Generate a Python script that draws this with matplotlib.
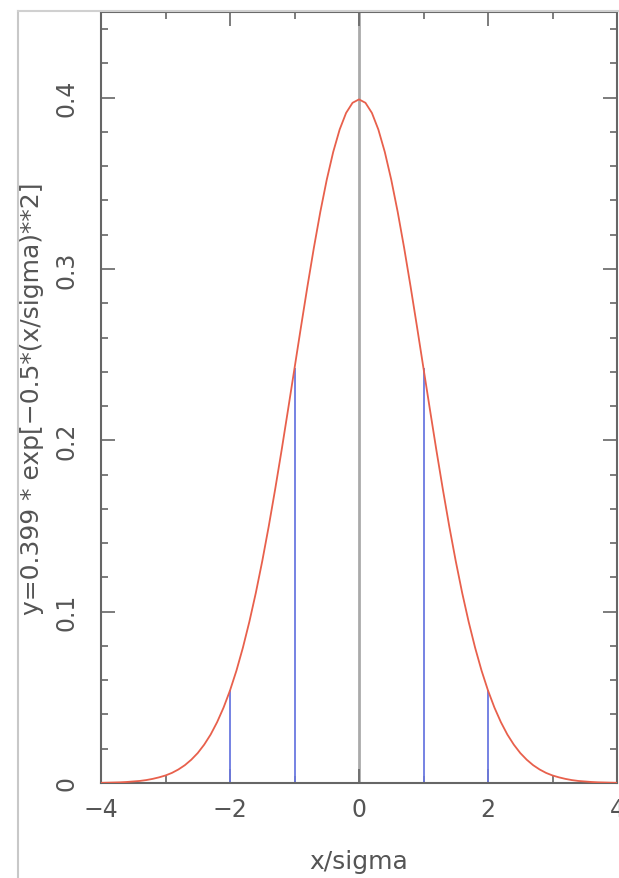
import matplotlib
matplotlib.use("Agg")
import matplotlib.pyplot as plt
from matplotlib.lines import Line2D
from matplotlib.ticker import MultipleLocator

# curve samples (x/sigma from -4 to 4 in steps of 0.1)
x_vals = [i / 10 for i in range(-40, 41)]
y_right = [0.3990, 0.3970, 0.3911, 0.3814, 0.3683, 0.3521, 0.3333, 0.3123, 0.2897, 0.2661,
           0.2420, 0.2179, 0.1942, 0.1714, 0.1497, 0.1295, 0.1109, 0.0941, 0.0790, 0.0656,
           0.0540, 0.0440, 0.0355, 0.0283, 0.0224, 0.0175, 0.0136, 0.0104, 0.0079, 0.0059,
           0.0044, 0.0033, 0.0024, 0.0017, 0.0012, 0.0009, 0.0006, 0.0004, 0.0003, 0.0002,
           0.0001]
y_vals = y_right[:0:-1] + y_right

# sigma markers
sigma_x = [-2, -1, 1, 2]
sigma_y = [0.054, 0.242, 0.242, 0.054]

x_ticks = [-4, -2, 0, 2, 4]
x_ticklabels = ["\u22124", "\u22122", "0", "2", "4"]
y_ticks = [0, 0.1, 0.2, 0.3, 0.4]
y_ticklabels = ["0", "0.1", "0.2", "0.3", "0.4"]

txt = "#555555"
plt.rcParams["font.family"] = ["DejaVu Sans"]

fig = plt.figure(figsize=(6.19, 8.79), dpi=100)
ax = fig.add_axes([101 / 619, 1 - 784 / 879, 516 / 619, 771 / 879])

# screenshot frame on the left and top
fig.add_artist(Line2D([18 / 619, 18 / 619], [0, 1 - 12 / 879], color="#c8c8c8", lw=1.5))
fig.add_artist(Line2D([18 / 619, 1], [1 - 12 / 879, 1 - 12 / 879], color="#d0d0d0", lw=1.5))

ax.axvline(0, color="#aaaaaa", lw=2, zorder=1)
ax.vlines(sigma_x, 0, sigma_y, color="#6a78e0", lw=1.3, zorder=2)
ax.plot(x_vals, y_vals, color="#e8604c", lw=1.3, zorder=3)

ax.set_xlim(-4, 4)
ax.set_ylim(0, 0.45)

ax.set_xticks(x_ticks)
ax.set_xticklabels(x_ticklabels)
ax.set_yticks(y_ticks)
ax.set_yticklabels(y_ticklabels, rotation=90, va="center")
ax.xaxis.set_minor_locator(MultipleLocator(1))
ax.yaxis.set_minor_locator(MultipleLocator(0.02))

ax.tick_params(which="both", direction="in", top=True, right=True,
               colors="#666666", labelcolor=txt, labelsize=17, width=1.2)
ax.tick_params(which="major", length=10, pad=10)
ax.tick_params(which="minor", length=5)
ax.tick_params(axis="y", pad=16)

for s in ax.spines.values():
    s.set_color("#666666")
    s.set_linewidth(1.5)

ax.set_xlabel("x/sigma", fontsize=18, color=txt, labelpad=20)
ax.set_ylabel("y=0.399 * exp[\u22120.5*(x/sigma)**2]", fontsize=18, color=txt, labelpad=8)

fig.savefig("out.png", dpi=100)
